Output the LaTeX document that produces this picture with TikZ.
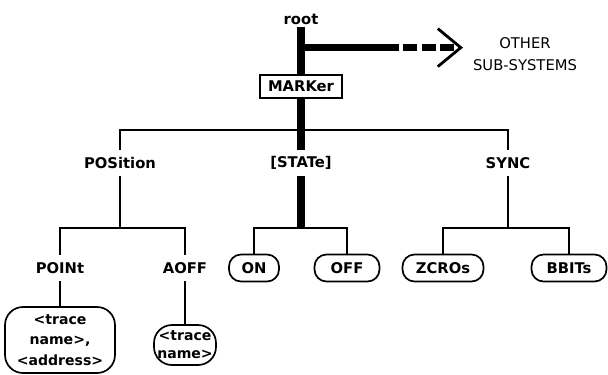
\documentclass[tikz,border=0pt]{standalone}
\usepackage{fontspec}
\setmainfont{DejaVu Sans}
\usetikzlibrary{arrows.meta}

\begin{document}
\begin{tikzpicture}[
  lbl/.style={font=\fontsize{10.5}{13}\selectfont\bfseries, inner sep=1pt, minimum height=0.65cm},
  cmd/.style={draw, line width=1.2pt, rounded corners=0.3cm, minimum height=0.675cm,
              inner sep=3pt, font=\fontsize{10.5}{13}\selectfont\bfseries},
  param/.style={draw, line width=1.2pt, rounded corners=0.45cm, align=center, inner sep=1pt,
                font=\fontsize{10}{14.5}\selectfont\bfseries},
  tree/.style={line width=1.3pt},
  trunk/.style={line width=5pt}
]
  \useasboundingbox (0,0) rectangle (15.2,-9.375);

  \node[font=\fontsize{10.5}{13}\selectfont\bfseries, inner sep=2pt] (root) at (7.525,-0.475) {root};
  \node[draw, line width=1.2pt, minimum width=2.05cm, minimum height=0.575cm, inner sep=2pt,
        font=\fontsize{10.5}{13}\selectfont\bfseries] (marker) at (7.525,-2.16) {MARKer};
  \node[align=center, font=\fontsize{10.5}{15.5}\selectfont] (others) at (13.125,-1.35)
    {OTHER\\SUB-SYSTEMS};

  \node[lbl] (pos)   at (3.0,-4.075)   {POSition};
  \node[lbl] (state) at (7.525,-4.075) {[STATe]};
  \node[lbl] (sync)  at (12.7,-4.075)  {SYNC};

  \node[lbl] (point) at (1.5,-6.7)   {POINt};
  \node[lbl] (aoff)  at (4.625,-6.7) {AOFF};
  \node[cmd, minimum width=1.25cm]  (on)    at (6.35,-6.7)   {ON};
  \node[cmd, minimum width=1.625cm] (off)   at (8.675,-6.7)  {OFF};
  \node[cmd, minimum width=2.025cm] (zcros) at (11.075,-6.7) {ZCROs};
  \node[cmd, minimum width=1.875cm] (bbits) at (14.225,-6.7) {BBITs};

  \node[param, minimum width=2.75cm, minimum height=1.65cm] (ptarg) at (1.5,-8.5)
    {<trace\\name>,\\<address>};
  \node[param, minimum width=1.55cm, minimum height=1.0cm, font=\fontsize{10}{13}\selectfont\bfseries]
    (aoffarg) at (4.625,-8.625) {<trace\\name>};

  \coordinate (br)     at (7.525,-1.19);
  \coordinate (dsh)    at (9.625,-1.19);
  \coordinate (tip)    at (11.575,-1.19);
  \coordinate (mj)     at (7.525,-3.25);
  \coordinate (posj)   at (3.0,-5.7);
  \coordinate (statej) at (7.525,-5.7);
  \coordinate (syncj)  at (12.7,-5.7);

  \draw[trunk] (root) -- (marker);
  \draw[trunk] (br) -- (dsh);
  \draw[trunk, dash pattern=on 10pt off 3pt,
        -{Straight Barb[length=0.575cm, width=0.95cm, line width=2pt]}] (dsh) -- (tip);

  \draw[trunk] (marker) -- (state);
  \draw[tree] (pos) |- (mj) -| (sync);

  \draw[tree] (pos) -- (posj);
  \draw[tree] (point) |- (posj) -| (aoff);
  \draw[trunk] (state) -- (statej);
  \draw[tree] (on) |- (statej) -| (off);
  \draw[tree] (sync) -- (syncj);
  \draw[tree] (zcros) |- (syncj) -| (bbits);

  \draw[tree] (point) -- (ptarg);
  \draw[tree] (aoff) -- (aoffarg);
\end{tikzpicture}
\end{document}
